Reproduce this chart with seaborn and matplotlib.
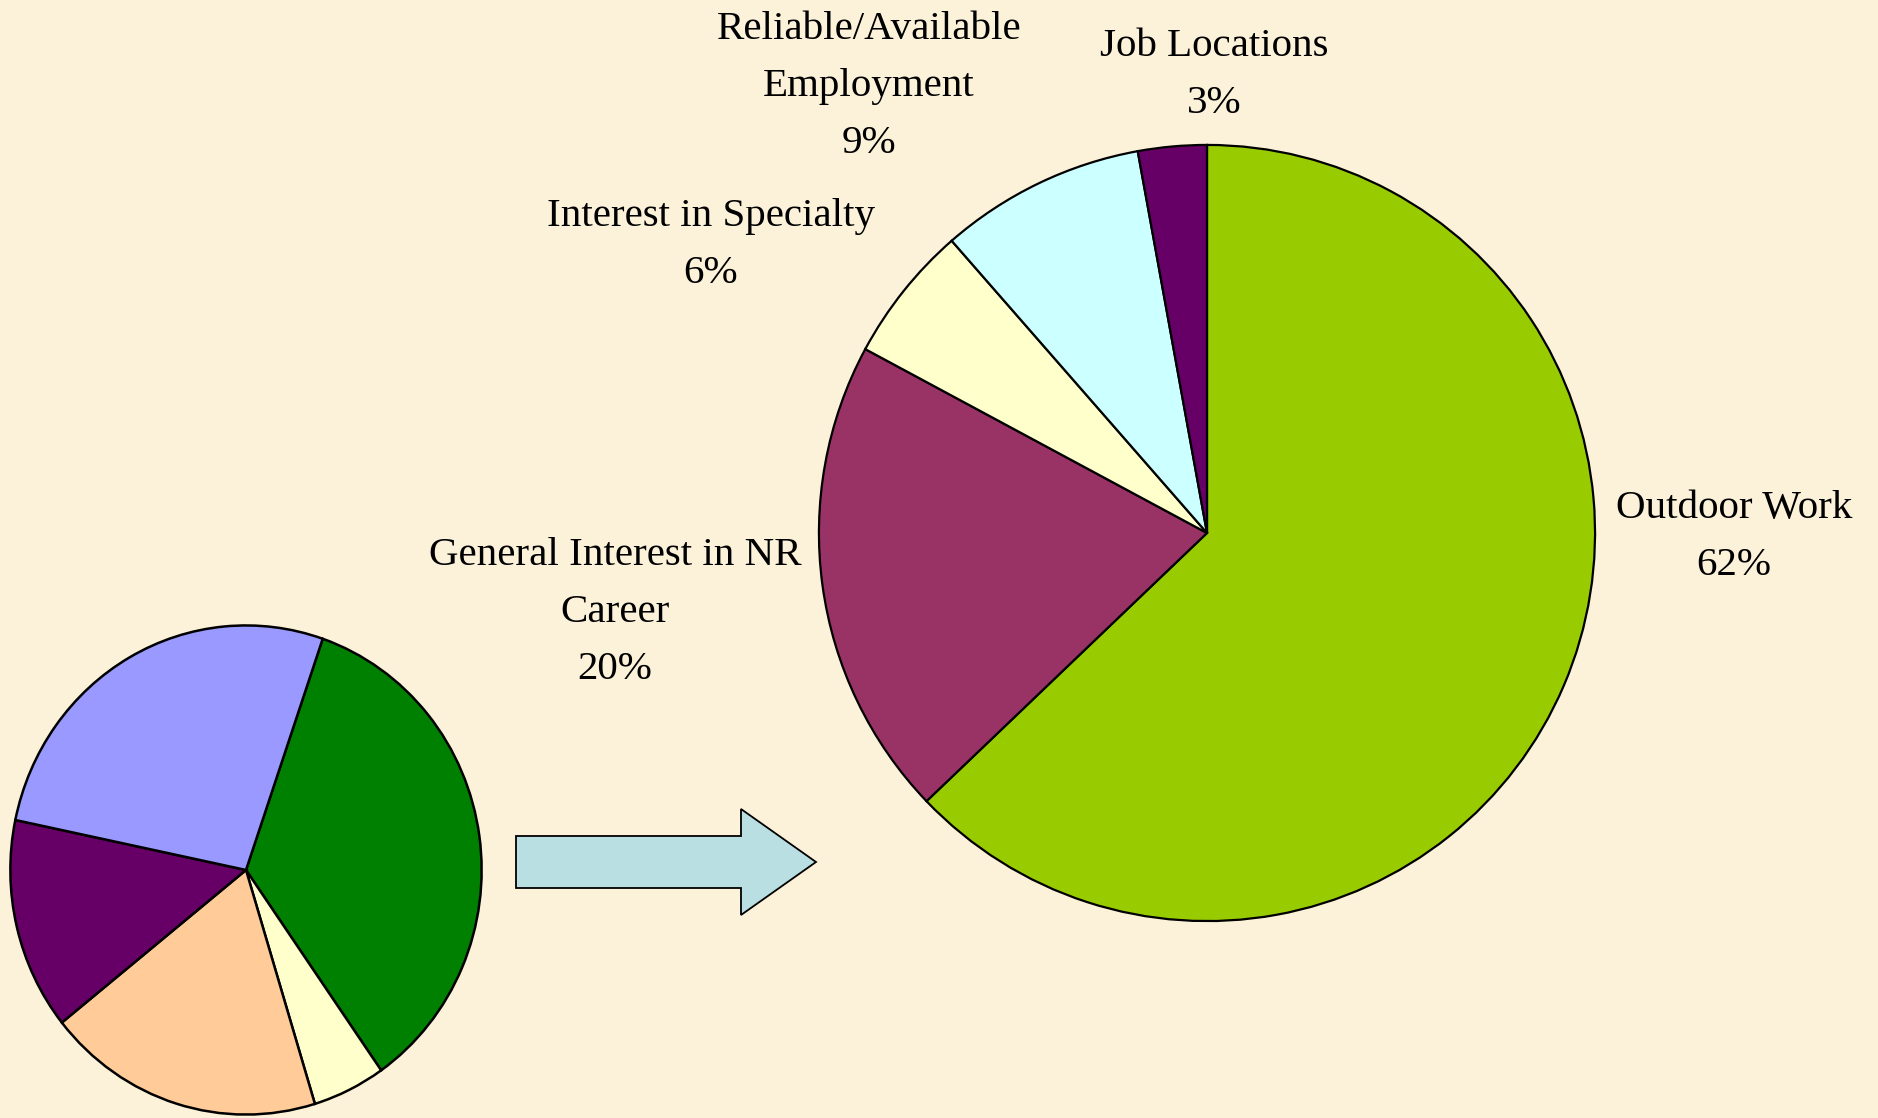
import matplotlib
matplotlib.use("Agg")
import matplotlib.pyplot as plt
from matplotlib.patches import Polygon
import seaborn as sns

# ---------------- data ----------------
big_labels = ["Outdoor Work", "General Interest in NR\nCareer", "Interest in Specialty",
              "Reliable/Available\nEmployment", "Job Locations"]
big_values = [22, 7, 2, 3, 1]            # slice sizes
big_pct_labels = [62, 20, 6, 9, 3]       # percentages as printed on the chart
big_colors = ["#99CC00", "#993366", "#FFFFCC", "#CCFFFF", "#660066"]

small_values = [35, 5, 19, 14, 27]
small_colors = ["#008000", "#FFFFCC", "#FFCC99", "#660066", "#9999FF"]

# ---------------- style ----------------
BG = "#FCF2DA"
sns.set_theme(style="white", rc={"figure.facecolor": BG, "axes.facecolor": "none"})
plt.rcParams["font.family"] = ["Liberation Serif", "DejaVu Serif"]

W, H = 1878, 1118
fig = plt.figure(figsize=(W / 100, H / 100), dpi=100)
fig.patch.set_facecolor(BG)


def pie_axes(cx, cy, rx, ry):
    """Axes whose box is the bounding box of the pie (pixel coords, y from top)."""
    ax = fig.add_axes([(cx - rx) / W, 1 - (cy + ry) / H, 2 * rx / W, 2 * ry / H])
    return ax


# big pie
ax_big = pie_axes(1207, 533, 390, 390)
ax_big.pie(big_values, colors=sns.color_palette(big_colors), startangle=90,
           counterclock=False, radius=1,
           wedgeprops=dict(edgecolor="black", linewidth=1.6))
ax_big.set_aspect("auto")
ax_big.set_xlim(-1.005, 1.005)
ax_big.set_ylim(-1.005, 1.005)
ax_big.axis("off")

# small pie
ax_small = pie_axes(246, 870, 238, 247)
ax_small.pie(small_values, colors=sns.color_palette(small_colors), startangle=71,
             counterclock=False, radius=1,
             wedgeprops=dict(edgecolor="black", linewidth=1.8))
ax_small.set_aspect("auto")
ax_small.set_xlim(-1.01, 1.01)
ax_small.set_ylim(-1.01, 1.01)
ax_small.axis("off")

# labels: (centre x, baseline of first line) in pixels
label_pos = [(1734, 518), (615, 565), (711, 226), (869, 39), (1214, 56)]
LINE = 57
for lab, pct, (x, y) in zip(big_labels, big_pct_labels, label_pos):
    lines = lab.split("\n") + [f"{pct}%"]
    for i, ln in enumerate(lines):
        fig.text(x / W, 1 - (y + i * LINE) / H, ln, ha="center", va="baseline",
                 fontsize=29.5, color="black")

# arrow
body_l, body_t, body_b = 516, 836, 888
head_x, head_t, head_b = 741, 809, 915
tip_x, tip_y = 816, 862
pts = [(body_l, body_t), (head_x, body_t), (head_x, head_t), (tip_x, tip_y),
       (head_x, head_b), (head_x, body_b), (body_l, body_b)]
fig.patches.append(Polygon([(px / W, 1 - py / H) for px, py in pts], closed=True,
                           transform=fig.transFigure, facecolor="#BADFE2",
                           edgecolor="black", linewidth=1.3))

fig.savefig("out.png", dpi=100, facecolor=BG)
